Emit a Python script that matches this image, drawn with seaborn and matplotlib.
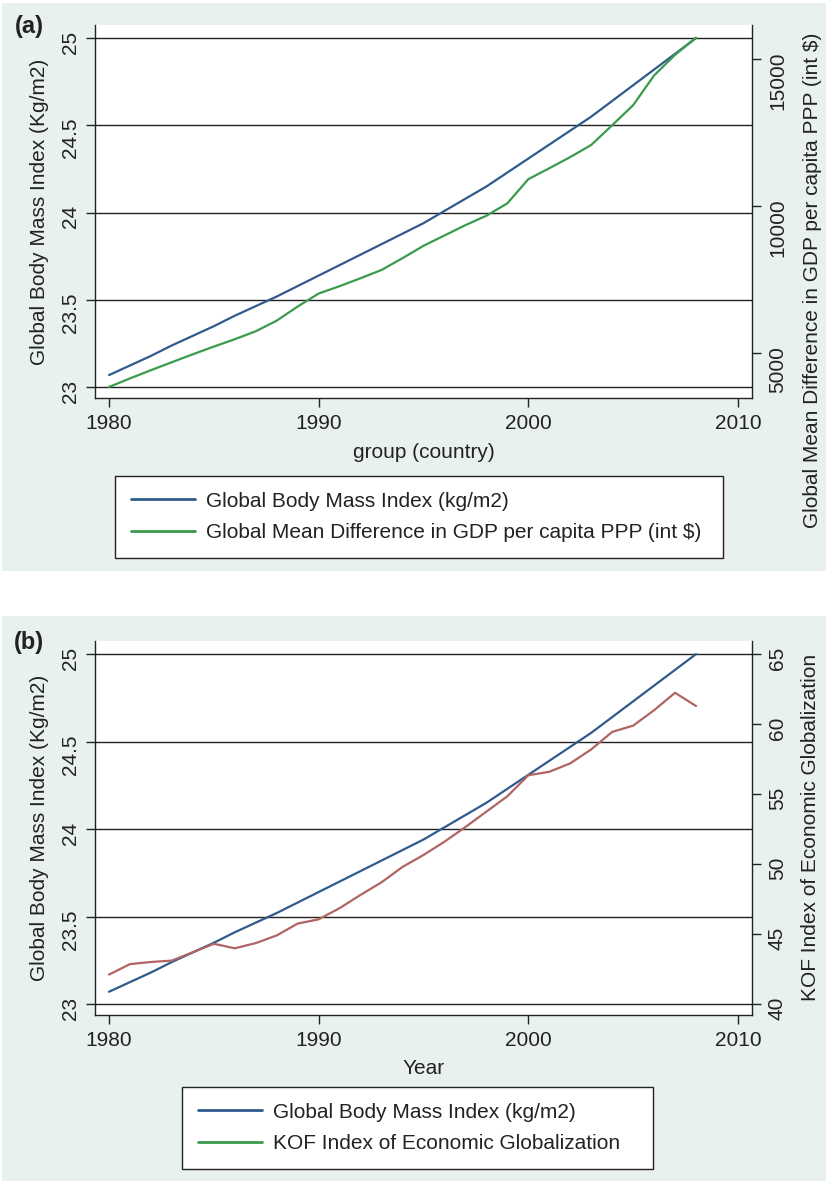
import seaborn as sns
import matplotlib.pyplot as plt
import matplotlib.patches as mpatches
from matplotlib.lines import Line2D

# data
years = list(range(1980, 2009))
bmi = [23.07, 23.125, 23.18, 23.24, 23.295, 23.35, 23.41, 23.465, 23.52, 23.58,
       23.64, 23.70, 23.76, 23.82, 23.88, 23.94, 24.01, 24.08, 24.15, 24.23,
       24.31, 24.39, 24.47, 24.55, 24.64, 24.73, 24.82, 24.91, 25.00]
gdp = [3860, 4150, 4430, 4700, 4970, 5230, 5480, 5750, 6110, 6590,
       7030, 7280, 7550, 7830, 8230, 8650, 9000, 9350, 9670, 10090,
       10910, 11280, 11660, 12070, 12740, 13420, 14430, 15130, 15710]
kof = [42.1, 42.85, 43.0, 43.1, 43.7, 44.3, 43.98, 44.35, 44.9, 45.75,
       46.05, 46.85, 47.8, 48.7, 49.8, 50.65, 51.6, 52.65, 53.75, 54.85,
       56.35, 56.6, 57.2, 58.2, 59.45, 59.9, 61.0, 62.25, 61.3]

bmi_ticks = [23, 23.5, 24, 24.5, 25]
bmi_labels = ['23', '23.5', '24', '24.5', '25']
gdp_ticks = [5000, 10000, 15000]
kof_ticks = [40, 45, 50, 55, 60, 65]
year_ticks = [1980, 1990, 2000, 2010]

blue = '#2f5b8c'
green = '#3a9b4c'
red = '#b06464'
bg = '#e9f0f0'
ink = '#222222'

sns.set_theme(style='white')
plt.rcParams['font.family'] = ['Liberation Sans', 'DejaVu Sans']

W, H = 826, 1181
fig = plt.figure(figsize=(8.26, 11.81), dpi=100)
fig.patch.set_facecolor('white')


def fx(px):
    return px / W


def fy(py):
    return 1 - py / H


# grey panel backgrounds
for top, bot in [(3, 571), (616, 1181)]:
    fig.patches.append(mpatches.Rectangle((fx(2), fy(bot)), 1 - fx(2), fy(top) - fy(bot),
                                          transform=fig.transFigure, facecolor=bg,
                                          edgecolor='none', zorder=-10))


def panel(top, bot, right_vals, right_color, right_lim, right_ticks, right_label,
          right_label_y, right_label_x, xlabel, letter, leg_labels, leg_box):
    ax = fig.add_axes([fx(95), fy(bot), fx(752) - fx(95), fy(top) - fy(bot)])
    ax.set_facecolor('white')
    sns.lineplot(x=years, y=bmi, ax=ax, color=blue, lw=1.6, legend=False)
    ax.set_xlim(1979.33, 2010.67)
    ax.set_ylim(22.937, 25.075)
    ax.set_yticks(bmi_ticks)
    ax.set_yticklabels(bmi_labels)
    ax.set_xticks(year_ticks)
    ax.yaxis.grid(True, color=ink, lw=1.0)
    ax.xaxis.grid(False)
    ax.tick_params(axis='y', left=True, length=6.5, width=1, color=ink,
                   labelsize=15, pad=4, labelrotation=90, labelcolor=ink)
    ax.tick_params(axis='x', bottom=True, length=6.5, width=1, color=ink,
                   labelsize=15, pad=5, labelcolor=ink)
    for s in ['top', 'right']:
        ax.spines[s].set_visible(False)
    for s in ['left', 'bottom']:
        ax.spines[s].set_color(ink)
        ax.spines[s].set_linewidth(1)
    ax.set_xlabel('')
    ax.set_ylabel('')

    ax2 = ax.twinx()
    sns.lineplot(x=years, y=right_vals, ax=ax2, color=right_color, lw=1.6, legend=False)
    ax2.set_ylim(*right_lim)
    ax2.set_yticks(right_ticks)
    ax2.grid(False)
    ax2.tick_params(axis='y', right=True, length=6.5, width=1, color=ink,
                    labelsize=15, pad=5, labelrotation=90, labelcolor=ink)
    for s in ['top', 'left', 'bottom']:
        ax2.spines[s].set_visible(False)
    ax2.spines['right'].set_color(ink)
    ax2.spines['right'].set_linewidth(1)
    ax2.set_ylabel('')

    fig.text(fx(40), fy((top + bot) / 2), 'Global Body Mass Index (Kg/m2)',
             rotation=90, ha='center', va='center', fontsize=15, color=ink)
    fig.text(fx(right_label_x), fy(right_label_y), right_label,
             rotation=90, ha='center', va='center', fontsize=15, color=ink)
    fig.text(fx(423.5), fy(bot + 54), xlabel, ha='center', va='center',
             fontsize=15, color=ink)
    fig.text(fx(29), fy(top + 1), letter, ha='center', va='center',
             fontsize=17, fontweight='bold', color=ink)

    handles = [Line2D([], [], color=blue, lw=2), Line2D([], [], color=green, lw=2)]
    x0, y0, x1, y1 = leg_box
    leg = fig.legend(handles, leg_labels, loc='center',
                     bbox_to_anchor=(fx(x0), fy(y1), fx(x1) - fx(x0), fy(y0) - fy(y1)),
                     mode='expand', frameon=True, fancybox=False, edgecolor=ink,
                     facecolor='white', framealpha=1, fontsize=15, handlelength=3.1,
                     handletextpad=0.5, labelspacing=0.62, borderpad=0.75,
                     borderaxespad=0)
    leg.get_frame().set_linewidth(1)
    for t in leg.get_texts():
        t.set_color(ink)
    return ax, ax2


panel(25, 398.3, gdp, green, (3475, 16141), gdp_ticks,
      'Global Mean Difference in GDP per capita PPP (int $)', 280, 812,
      'group (country)', '(a)',
      ['Global Body Mass Index (kg/m2)', 'Global Mean Difference in GDP per capita PPP (int $)'],
      (115, 477, 723, 557))

panel(641, 1015, kof, red, (39.21, 65.95), kof_ticks,
      'KOF Index of Economic Globalization', 827, 810,
      'Year', '(b)',
      ['Global Body Mass Index (kg/m2)', 'KOF Index of Economic Globalization'],
      (182, 1088, 653, 1168))

fig.savefig('out.png', dpi=100)
